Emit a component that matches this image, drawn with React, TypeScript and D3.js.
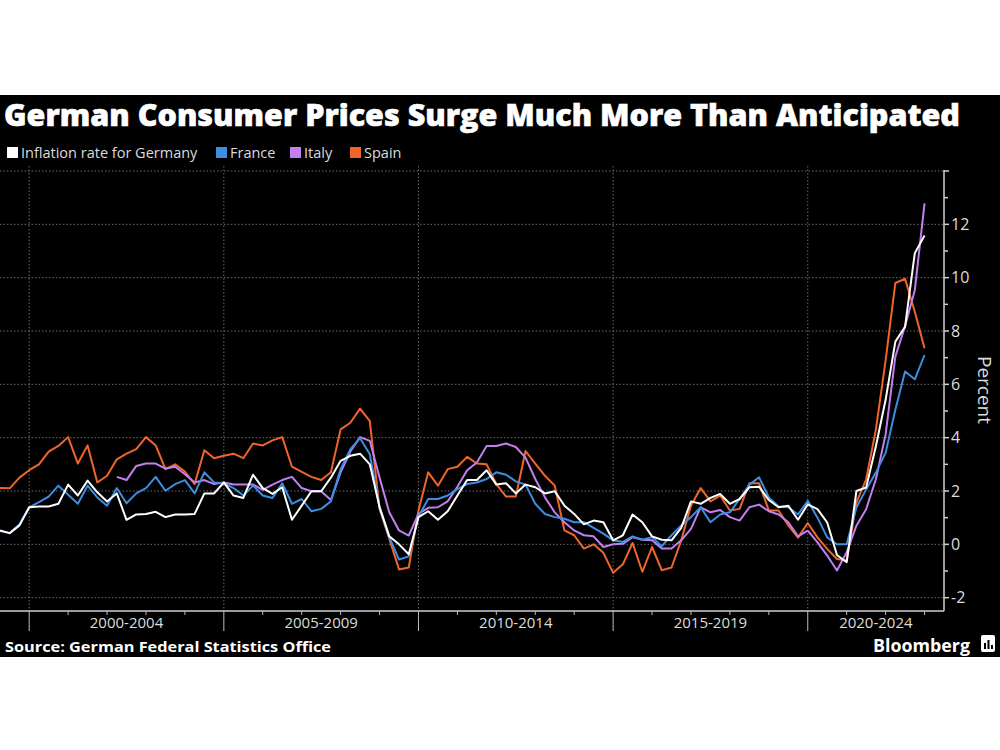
import React from "react";
import * as d3 from "d3";

const title = "German Consumer Prices Surge Much More Than Anticipated";
const source = "Source: German Federal Statistics Office";
const seriesNames = ["Inflation rate for Germany", "France", "Italy", "Spain"];
const seriesColors = ["#ffffff", "#3b8ee0", "#c17ff0", "#f0662a"];
const periodLabels = ["2000-2004", "2005-2009", "2010-2014", "2015-2019", "2020-2024"];
const periodStarts = [2000, 2005, 2010, 2015, 2020];
const yTicks = [-2, 0, 2, 4, 6, 8, 10, 12];
const startYear = 1999.25; // first quarterly observation
const step = 0.25;

const germany = [
  0.52, 0.42, 0.71, 1.39, 1.42, 1.42, 1.52, 2.24, 1.83, 2.39, 1.95, 1.61, 1.91, 0.92, 1.12, 1.14,
  1.22, 1.02, 1.12, 1.12, 1.14, 1.91, 1.91, 2.32, 1.83, 1.74, 2.61, 2.11, 1.89, 2.14, 0.92, 1.45,
  1.99, 1.99, 2.5, 3.13, 3.32, 3.4, 3.0, 1.4, 0.3, 0.0, -0.37, 1.02, 1.24, 0.92, 1.24, 1.83,
  2.41, 2.41, 2.78, 2.24, 2.29, 1.91, 2.24, 2.14, 1.91, 1.99, 1.45, 1.14, 0.75, 0.89, 0.83, 0.15,
  0.34, 1.12, 0.83, 0.3, 0.17, 0.15, 0.62, 1.61, 1.52, 1.74, 1.89, 1.52, 1.7, 2.14, 2.16, 1.66,
  1.39, 1.45, 0.92, 1.5, 1.32, 0.82, -0.4, -0.67, 2.0, 2.13, 3.68, 5.42, 7.6, 8.16, 10.92, 11.58,
];
const france = [
  0.5, 0.42, 0.75, 1.39, 1.58, 1.79, 2.2, 1.86, 1.52, 2.2, 1.76, 1.45, 2.11, 1.54, 1.91, 2.11,
  2.53, 2.01, 2.26, 2.41, 1.91, 2.7, 2.32, 2.29, 2.11, 1.83, 2.2, 1.83, 1.74, 2.29, 1.52, 1.7,
  1.24, 1.33, 1.61, 2.82, 3.57, 3.98, 3.38, 1.39, 0.27, -0.57, -0.45, 1.04, 1.7, 1.7, 1.83, 2.07,
  2.26, 2.32, 2.45, 2.7, 2.61, 2.36, 2.24, 1.52, 1.14, 1.02, 0.96, 0.83, 0.83, 0.62, 0.4, 0.15,
  0.09, 0.3, 0.17, 0.27, -0.07, 0.34, 0.71, 1.02, 1.39, 0.83, 1.12, 1.2, 1.7, 2.24, 2.51, 1.76,
  1.42, 1.39, 1.12, 1.63, 1.0, 0.26, 0.0, 0.0, 1.38, 2.06, 2.69, 3.43, 5.05, 6.48, 6.19, 7.1,
];
const italy = [
  null, null, null, null, null, null, null, null, null, null, null, null, 2.53, 2.41, 2.94, 3.03,
  3.03, 2.84, 2.91, 2.63, 2.32, 2.41, 2.26, 2.32, 2.24, 2.24, 2.24, 2.04, 2.24, 2.41, 2.53, 2.11,
  1.99, 1.99, 1.66, 2.7, 3.48, 4.02, 3.88, 2.51, 1.2, 0.52, 0.33, 1.14, 1.37, 1.39, 1.61, 2.16,
  2.78, 3.07, 3.69, 3.69, 3.78, 3.65, 3.25, 2.45, 1.76, 1.2, 0.83, 0.52, 0.34, 0.3, -0.1, 0.0,
  0.02, 0.27, 0.17, 0.15, -0.16, -0.16, 0.15, 0.58, 1.39, 1.2, 1.29, 1.02, 0.89, 1.39, 1.49, 1.24,
  1.12, 0.83, 0.3, 0.51, 0.07, -0.42, -0.98, -0.3, 0.7, 1.32, 2.44, 4.12, 7.04, 8.18, 9.53, 12.79,
];
const spain = [
  2.11, 2.1, 2.5, 2.78, 3.0, 3.48, 3.69, 4.02, 3.03, 3.71, 2.32, 2.57, 3.19, 3.4, 3.57, 4.02,
  3.71, 2.82, 3.0, 2.73, 2.26, 3.53, 3.23, 3.32, 3.4, 3.23, 3.78, 3.71, 3.9, 4.02, 2.91, 2.72,
  2.53, 2.41, 2.7, 4.31, 4.56, 5.09, 4.62, 1.33, 0.21, -0.94, -0.87, 1.27, 2.7, 2.2, 2.82, 2.91,
  3.28, 3.03, 3.0, 2.26, 1.79, 1.79, 3.5, 3.03, 2.57, 2.2, 0.52, 0.34, -0.16, 0.0, -0.32, -1.07,
  -0.75, 0.05, -1.03, -0.1, -0.97, -0.87, 0.15, 1.45, 2.11, 1.61, 1.83, 1.27, 1.33, 2.29, 2.29, 1.27,
  1.27, 0.71, 0.25, 0.8, 0.26, -0.17, -0.55, -0.61, 1.57, 2.44, 4.3, 6.9, 9.8, 9.96, 8.72, 7.35,
];

const allSeries = [germany, france, italy, spain];

export default function App() {
  const W = 1000;
  const H = 750;
  const plotLeft = 0;
  const plotRight = 944;
  const plotTop = 171;
  const plotBottom = 611;
  const x = d3.scaleLinear().domain([startYear, 2023.5]).range([plotLeft, plotRight]);
  const y = d3.scaleLinear().domain([-2.5, 14]).range([plotBottom, plotTop]);
  const line = d3
    .line<number | null>()
    .defined((d) => d !== null)
    .x((_, i) => x(startYear + i * step))
    .y((d) => y(d as number));

  const gridY = d3.range(-2, 15, 2);
  const minorY = d3.range(-2, 15, 1);
  const yearTicks = d3.range(2000, 2024, 1);
  const textColor = "#dcdcdc";
  const gridColor = "#6a6a6a";
  const font = "'Open Sans', 'Noto Sans', sans-serif";

  const legendX = [7, 216, 290, 350];

  return (
    <div style={{ position: "absolute", left: 0, top: 0 }}>
      <svg width={W} height={H} style={{ display: "block", background: "#fff" }}>
        <rect x={0} y={95} width={W} height={562} fill="#000" />
        <text
          x={4}
          y={126}
          fill="#fff"
          fontFamily={font}
          fontWeight={800}
          fontSize={30}
          textLength={956}
          lengthAdjust="spacingAndGlyphs"
          stroke="#fff"
          strokeWidth={0.6}
        >
          {title}
        </text>
        {seriesNames.map((n, i) => (
          <g key={n}>
            <rect x={legendX[i]} y={147} width={11} height={11} fill={seriesColors[i]} />
            <text x={legendX[i] + 14} y={158} fill={textColor} fontFamily={font} fontSize={14.5}>
              {n}
            </text>
          </g>
        ))}
        {gridY.map((v) => (
          <line
            key={"gy" + v}
            x1={plotLeft}
            x2={plotRight}
            y1={y(v)}
            y2={y(v)}
            stroke={gridColor}
            strokeWidth={1}
            strokeDasharray="1.5,2"
          />
        ))}
        {periodStarts.map((p) => (
          <line
            key={"gx" + p}
            x1={x(p)}
            x2={x(p)}
            y1={166}
            y2={plotBottom}
            stroke={gridColor}
            strokeWidth={1}
            strokeDasharray="1.5,2"
          />
        ))}
        {[3, 2, 1, 0].map((i) => (
          <path
            key={"s" + i}
            d={line(allSeries[i] as (number | null)[]) || ""}
            fill="none"
            stroke={seriesColors[i]}
            strokeWidth={2}
            strokeLinejoin="round"
          />
        ))}
        <line x1={plotRight} x2={plotRight} y1={plotTop - 1} y2={plotBottom} stroke="#cfcfcf" strokeWidth={1.5} />
        {minorY.map((v) => (
          <line
            key={"my" + v}
            x1={plotRight}
            x2={plotRight + (v % 2 === 0 ? 5 : 4)}
            y1={y(v)}
            y2={y(v)}
            stroke="#cfcfcf"
            strokeWidth={1.5}
          />
        ))}
        {yTicks.map((v) => (
          <text
            key={"yl" + v}
            x={plotRight + 7}
            y={y(v)}
            dy="0.35em"
            fill={textColor}
            fontFamily={font}
            fontSize={16}
          >
            {v < 0 ? "-" + Math.abs(v) : v}
          </text>
        ))}
        <text
          transform={`translate(978, 390) rotate(90)`}
          textAnchor="middle"
          fill={textColor}
          fontFamily={font}
          fontSize={19}
        >
          Percent
        </text>
        <line x1={plotLeft} x2={plotRight} y1={plotBottom} y2={plotBottom} stroke="#cfcfcf" strokeWidth={1.5} />
        {yearTicks.map((t) => (
          <line
            key={"xt" + t}
            x1={x(t)}
            x2={x(t)}
            y1={plotBottom}
            y2={plotBottom + (t % 5 === 0 ? 20 : 4)}
            stroke="#bdbdbd"
            strokeWidth={1}
          />
        ))}
        {periodLabels.map((l, i) => {
          const a = Math.max(x(periodStarts[i]), plotLeft);
          const b = Math.min(x(periodStarts[i] + 5), plotRight);
          return (
            <text
              key={l}
              x={(a + b) / 2}
              y={628}
              textAnchor="middle"
              fill={textColor}
              fontFamily={font}
              fontSize={15}
            >
              {l}
            </text>
          );
        })}
        <text
          x={5}
          y={652}
          fill="#fff"
          fontFamily={font}
          fontWeight={700}
          fontSize={15}
          textLength={326}
          lengthAdjust="spacingAndGlyphs"
        >
          {source}
        </text>
        <text
          x={873}
          y={652}
          fill="#fff"
          fontFamily={font}
          fontWeight={700}
          fontSize={18}
          textLength={97}
          lengthAdjust="spacingAndGlyphs"
        >
          Bloomberg
        </text>
        <rect x={981} y={635} width={14} height={17} rx={2} fill="#fff" />
        <rect x={984} y={643} width={2} height={6} fill="#000" />
        <rect x={987.5} y={640} width={2} height={9} fill="#000" />
        <rect x={991} y={645} width={2} height={4} fill="#000" />
      </svg>
    </div>
  );
}
